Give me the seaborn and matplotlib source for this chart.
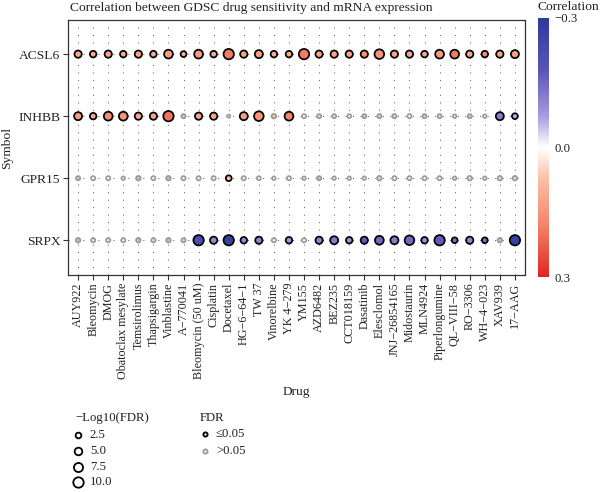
import numpy as np
import pandas as pd
import matplotlib
matplotlib.use("Agg")
import matplotlib.pyplot as plt
import matplotlib.colors as mcolors
import matplotlib.colorbar as mcolorbar
import seaborn as sns

sns.set_style("white")
plt.rcParams['font.family'] = ['Liberation Serif', 'DejaVu Serif']

drugs = ["AUY922", "Bleomycin", "DMOG", "Obatoclax mesylate", "Temsirolimus",
         "Thapsigargin", "Vinblastine", "A\u2212770041", "Bleomycin (50 uM)", "Cisplatin",
         "Docetaxel", "HG\u22126\u221264\u22121", "TW 37", "Vinorelbine", "YK 4\u2212279",
         "YM155", "AZD6482", "BEZ235", "CCT018159", "Dasatinib",
         "Elesclomol", "JNJ\u221226854165", "Midostaurin", "MLN4924", "Piperlongumine",
         "QL\u2212VIII\u221258", "RO\u22123306", "WH\u22124\u2212023", "XAV939", "17\u2212AAG"]

genes = ["SRPX", "GPR15", "INHBB", "ACSL6"]  # bottom to top

corr_ACSL6 = [0.12, 0.11, 0.12, 0.11, 0.12, 0.11, 0.14, 0.10, 0.14, 0.11,
              0.19, 0.12, 0.13, 0.11, 0.11, 0.19, 0.12, 0.12, 0.12, 0.15,
              0.15, 0.12, 0.12, 0.11, 0.14, 0.19, 0.12, 0.16, 0.12, 0.13]
logfdr_ACSL6 = [4.5, 3.5, 4.5, 3.5, 4.5, 3.5, 7.0, 2.6, 7.0, 3.5,
                11.5, 4.5, 5.7, 3.5, 3.5, 10.0, 4.5, 4.5, 4.5, 4.5,
                8.5, 4.5, 4.5, 3.5, 7.0, 7.0, 4.5, 3.5, 4.5, 5.7]

corr_INHBB = [0.14, 0.11, 0.16, 0.15, 0.12, 0.12, 0.20, -0.04, 0.12, 0.12,
              0.00, 0.13, 0.15, 0.07, 0.18, 0.01, -0.03, 0.05, 0.01, -0.04,
              0.06, 0.05, 0.00, 0.07, 0.05, 0.00, -0.04, 0.00, -0.12, -0.06]
logfdr_INHBB = [5.7, 3.5, 7.0, 7.0, 4.5, 4.5, 11.5, 1.0, 4.5, 4.5,
                0.2, 5.7, 8.5, 1.3, 7.0, 1.0, 1.0, 1.0, 0.8, 1.0,
                1.0, 1.0, 1.0, 1.0, 1.0, 0.5, 1.0, 0.5, 5.7, 2.6]

corr_GPR15 = [-0.04, 0.00, 0.00, 0.00, -0.05, 0.00, -0.05, 0.00, 0.00, 0.00,
              0.08, 0.00, 0.00, 0.00, 0.00, 0.00, -0.05, 0.00, 0.00, 0.00,
              0.05, 0.00, 0.00, 0.00, 0.00, 0.00, 0.05, 0.00, 0.05, 0.05]
logfdr_GPR15 = [1.0, 1.0, 1.0, 0.5, 1.3, 1.0, 1.3, 1.0, 1.0, 1.0,
                2.6, 1.0, 0.8, 0.5, 1.0, 0.5, 1.0, 0.5, 0.5, 0.5,
                1.3, 1.0, 1.0, 1.0, 1.0, 0.5, 1.3, 0.5, 1.3, 1.3]

corr_SRPX = [-0.05, -0.01, 0.03, -0.01, -0.05, -0.02, -0.05, -0.03, -0.22, -0.10,
             -0.27, -0.09, -0.11, 0.00, -0.08, 0.00, -0.11, -0.12, -0.09, -0.17,
             -0.15, -0.12, -0.15, -0.09, -0.17, -0.14, -0.11, -0.14, -0.05, -0.27]
logfdr_SRPX = [1.3, 1.0, 1.0, 1.0, 1.3, 1.0, 1.3, 1.0, 11.5, 4.5,
               13.5, 3.5, 4.5, 1.0, 3.5, 1.0, 4.5, 5.7, 3.5, 4.5,
               7.0, 5.7, 8.5, 3.5, 10.0, 2.6, 4.5, 2.6, 1.3, 13.5]

size_breaks = [2.5, 5.0, 7.5, 10.0]
fdr_labels = ["\u22640.05", ">0.05"]
cbar_ticks = [-0.3, 0.0, 0.3]

gene_data = {
    "ACSL6": (corr_ACSL6, logfdr_ACSL6),
    "INHBB": (corr_INHBB, logfdr_INHBB),
    "GPR15": (corr_GPR15, logfdr_GPR15),
    "SRPX": (corr_SRPX, logfdr_SRPX),
}
rows = []
for g in genes:
    c, l = gene_data[g]
    for i, d in enumerate(drugs):
        rows.append({"Drug": d, "Symbol": g, "x": i, "y": genes.index(g),
                     "corr": c[i], "logfdr": l[i]})
df = pd.DataFrame(rows)
df["sig"] = df["logfdr"] >= -np.log10(0.05)

cmap = mcolors.LinearSegmentedColormap.from_list(
    "corr", [(0.0, "#2c3a9c"), (0.2, "#5a55b8"), (0.38, "#a99be0"), (0.5, "#ffffff"),
             (0.62, "#fbbfa5"), (0.8, "#f4846a"), (1.0, "#e0261f")])
norm = mcolors.Normalize(-0.3, 0.3)
SIZES = (4.0, 56.0)
SNORM = (0.0, 10.0)

def size_of(v):
    return SIZES[0] + (v - SNORM[0]) / (SNORM[1] - SNORM[0]) * (SIZES[1] - SIZES[0])

fig = plt.figure(figsize=(6.0, 4.92), dpi=100)
ax = fig.add_axes([68 / 600, 1 - 275 / 492, (525 - 68) / 600, (275 - 20) / 492])

for sig, ec in [(False, "#9a9a9a"), (True, "#000000")]:
    sub = df[df["sig"] == sig]
    sns.scatterplot(data=sub, x="x", y="y", hue="corr", size="logfdr",
                    palette=cmap, hue_norm=norm, sizes=SIZES, size_norm=SNORM,
                    edgecolor=ec, linewidth=1.25, legend=False, ax=ax, zorder=3)

ax.set_xlim(-0.67, len(drugs) - 1 + 0.67)
ax.set_ylim(-0.56, len(genes) - 1 + 0.55)
ax.set_xticks(range(len(drugs)))
ax.set_xticklabels(drugs, rotation=90, fontsize=8.7)
ax.set_yticks(range(len(genes)))
ax.set_yticklabels(genes, fontsize=9.7)
ax.tick_params(axis="both", direction="out", length=3.5, width=0.8, color="#333333",
               labelcolor="#222222", pad=2)
ax.tick_params(axis="x", bottom=True)
ax.tick_params(axis="y", left=True)
ax.set_axisbelow(True)
ax.grid(True, linestyle=(0, (1, 6.7)), color="#555555", linewidth=0.7)
for s in ax.spines.values():
    s.set_color("#333333")
    s.set_linewidth(0.9)
ax.set_xlabel("Drug", fontsize=9.7, color="#222222")
ax.set_ylabel("Symbol", fontsize=9.7, color="#222222")
ax.xaxis.set_label_coords(0.5, -0.435)
ax.yaxis.set_label_coords(-0.12, 0.5)

fig.text(70 / 600, 1 - 8 / 492, "Correlation between GDSC drug sensitivity and mRNA expression",
         ha="left", va="center", fontsize=9.7, color="#222222")

# colorbar
cax = fig.add_axes([538 / 600, 1 - 277 / 492, 11 / 600, (277 - 18) / 492])
cb = mcolorbar.ColorbarBase(cax, cmap=cmap, norm=norm, orientation="vertical")
cb.outline.set_visible(False)
cax.invert_yaxis()
cb.set_ticks(cbar_ticks)
cb.set_ticklabels(["\u22120.3", "0.0", "0.3"])
cax.tick_params(length=0, labelsize=9.2, pad=4, labelcolor="#222222")
fig.text(538 / 600, 1 - 7 / 492, "Correlation", ha="left", va="center", fontsize=9.7, color="#222222")

# legends
lax = fig.add_axes([0, 0, 1, 1])
lax.set_xlim(0, 600)
lax.set_ylim(492, 0)
lax.axis("off")
lax.text(75, 418, "\u2212Log10(FDR)", ha="left", va="center", fontsize=9.2, color="#222222")
ys = [435, 451, 467, 482]
for v, yy in zip(size_breaks, ys):
    lax.scatter([78], [yy], s=size_of(v), facecolor="white", edgecolor="black", linewidth=1.3)
    lax.text(90, yy, f"{v:.1f}", ha="left", va="center", fontsize=9.2, color="#222222")
lax.text(200, 418, "FDR", ha="left", va="center", fontsize=9.2, color="#222222")
for lab, yy, ec in zip(fdr_labels, [434, 451], ["black", "#9a9a9a"]):
    lax.scatter([205], [yy], s=size_of(1.0), facecolor="white", edgecolor=ec, linewidth=1.3)
    lax.text(216, yy, lab, ha="left", va="center", fontsize=9.2, color="#222222")

fig.savefig("out.png", dpi=100)
